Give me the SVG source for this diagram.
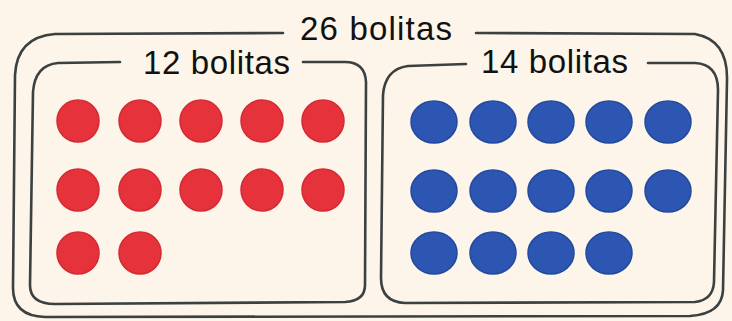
<svg xmlns="http://www.w3.org/2000/svg" width="732" height="321" viewBox="0 0 732 321">
<style>
.box{fill:none;stroke:#3b4141;stroke-width:2.6;stroke-linecap:round;stroke-linejoin:round}
.lbl{font-family:"Liberation Sans","Noto Sans",sans-serif;font-size:33px;fill:#111}
.r{fill:#e6323b;stroke:#d42a33;stroke-width:1.5}
.b{fill:#2c56b1;stroke:#214a9f;stroke-width:1.5}
</style>
<rect width="732" height="321" fill="#fdf5e9"/>
<g id="total">
<path class="box" d="M283 33 L55 34 Q17 37 15 75 L13 288 Q13 316 45 317 L690 316 Q722 314 723 290 L727 80 Q728 40 695 34 L476 33"/>
<text class="lbl" x="300" y="40" textLength="152">26 bolitas</text>
</g>
<g id="red-group">
<path class="box" d="M120 62 L58 63 Q35 65 33 92 L30 285 Q30 304 55 304 L345 302 Q365 301 365 285 L366 82 Q365 62 345 62 L303 62"/>
<text class="lbl" x="143" y="74" textLength="147">12 bolitas</text>
<g id="red-dots">
<circle class="r" cx="78" cy="121" r="21"/>
<circle class="r" cx="140" cy="121" r="21"/>
<circle class="r" cx="201" cy="121" r="21"/>
<circle class="r" cx="262" cy="121" r="21"/>
<circle class="r" cx="323" cy="121" r="21"/>
<circle class="r" cx="78" cy="190" r="21"/>
<circle class="r" cx="140" cy="190" r="21"/>
<circle class="r" cx="201" cy="190" r="21"/>
<circle class="r" cx="262" cy="190" r="21"/>
<circle class="r" cx="323" cy="190" r="21"/>
<circle class="r" cx="78" cy="253" r="21"/>
<circle class="r" cx="140" cy="253" r="21"/>
</g>
</g>
<g id="blue-group">
<path class="box" d="M466 64 L408 66 Q385 69 383 95 L381 278 Q381 302 405 303 L695 302 Q713 300 714 282 L718 90 Q718 64 695 63 L648 63"/>
<text class="lbl" x="481" y="73" textLength="147">14 bolitas</text>
<g id="blue-dots">
<ellipse class="b" cx="434" cy="122" rx="23" ry="21"/>
<ellipse class="b" cx="493" cy="122" rx="23" ry="21"/>
<ellipse class="b" cx="551" cy="122" rx="23" ry="21"/>
<ellipse class="b" cx="609" cy="122" rx="23" ry="21"/>
<ellipse class="b" cx="668" cy="122" rx="23" ry="21"/>
<ellipse class="b" cx="434" cy="191" rx="23" ry="21"/>
<ellipse class="b" cx="493" cy="191" rx="23" ry="21"/>
<ellipse class="b" cx="551" cy="191" rx="23" ry="21"/>
<ellipse class="b" cx="609" cy="191" rx="23" ry="21"/>
<ellipse class="b" cx="668" cy="191" rx="23" ry="21"/>
<ellipse class="b" cx="434" cy="253" rx="23" ry="21"/>
<ellipse class="b" cx="493" cy="253" rx="23" ry="21"/>
<ellipse class="b" cx="551" cy="253" rx="23" ry="21"/>
<ellipse class="b" cx="609" cy="253" rx="23" ry="21"/>
</g>
</g>
</svg>
